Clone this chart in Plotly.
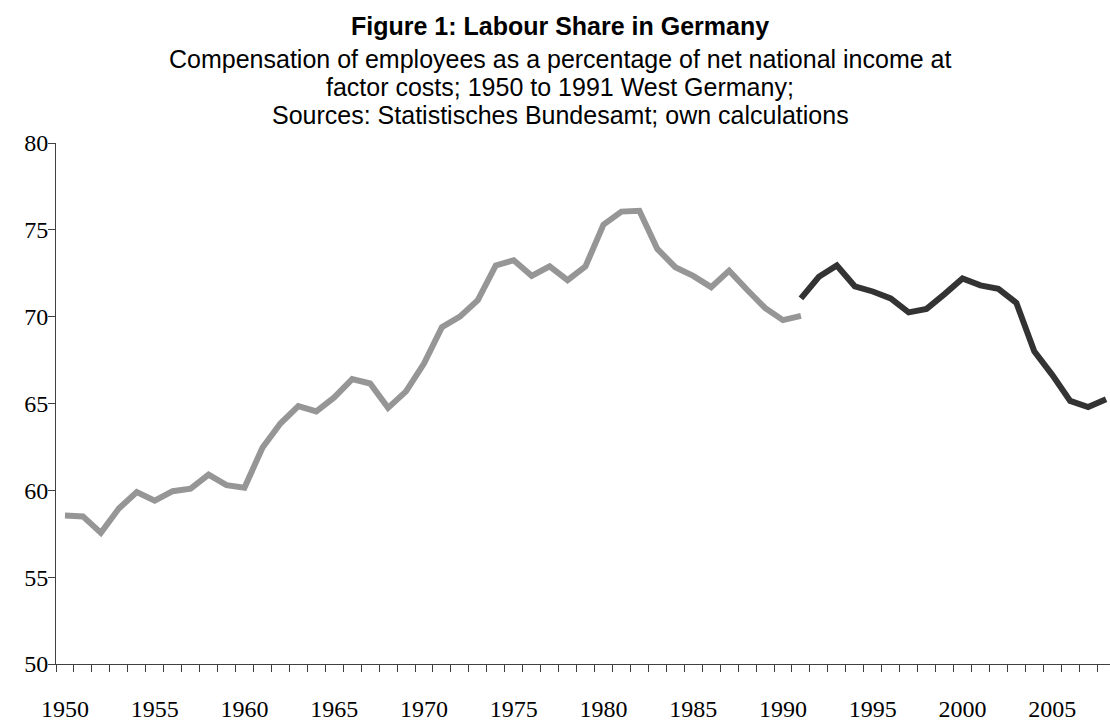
import plotly.graph_objects as go

# Data
years_west = list(range(1950, 1992))
share_west = [58.55, 58.5, 57.55, 58.95, 59.9, 59.4, 59.95, 60.1, 60.9, 60.3,
              60.15, 62.45, 63.85, 64.85, 64.55, 65.35, 66.4, 66.15, 64.75, 65.7,
              67.3, 69.4, 70.0, 70.95, 72.95, 73.25, 72.35, 72.9, 72.1, 72.9,
              75.3, 76.05, 76.1, 73.9, 72.85, 72.35, 71.7, 72.65, 71.55, 70.5,
              69.8, 70.05]
years_unified = list(range(1991, 2009))
share_unified = [71.05, 72.3, 72.95, 71.75, 71.45, 71.05, 70.25, 70.45, 71.3, 72.2,
                 71.8, 71.6, 70.8, 68.0, 66.65, 65.15, 64.8, 65.25]

x_label_vals = list(range(1950, 2006, 5))
x_label_text = [str(v) for v in x_label_vals]
x_boundaries = [y + 0.5 for y in range(1949, 2008)]
y_tick_vals = [50, 55, 60, 65, 70, 75, 80]

title_text = "<b>Figure 1: Labour Share in Germany</b>"
subtitle_lines = [
    "Compensation of employees as a percentage of net national income at",
    "factor costs; 1950 to 1991 West Germany;",
    "Sources: Statistisches Bundesamt; own calculations",
]

W, H = 1110, 722
L, R, T, B = 56, 0, 143, 49
px_per_year = 17.95
x_end = 1949.5 + (W - L - R) / px_per_year

fig = go.Figure()
fig.add_trace(go.Scatter(x=years_west, y=share_west, mode="lines",
                         line=dict(color="#969696", width=6), showlegend=False,
                         hoverinfo="skip"))
fig.add_trace(go.Scatter(x=years_unified, y=share_unified, mode="lines",
                         line=dict(color="#333333", width=6), showlegend=False,
                         hoverinfo="skip"))

tick_font = dict(family="Liberation Serif, Times New Roman, serif", size=24, color="#000000")

fig.update_xaxes(range=[1949.5, x_end], tickmode="array", tickvals=x_label_vals,
                 ticktext=x_label_text, ticks="outside", ticklen=23,
                 tickcolor="rgba(0,0,0,0)", showgrid=False, zeroline=False,
                 showline=True, linecolor="#404040", linewidth=1,
                 tickfont=tick_font,
                 minor=dict(tickmode="array", tickvals=x_boundaries, ticks="outside",
                            ticklen=7, tickcolor="#404040", tickwidth=1, showgrid=False))
fig.update_yaxes(range=[50, 80], tickmode="array", tickvals=y_tick_vals,
                 ticks="outside", ticklen=7, tickcolor="#404040", tickwidth=1,
                 showgrid=False, zeroline=False, showline=True, linecolor="#404040",
                 linewidth=1, tickfont=tick_font, ticklabelstandoff=-5)

plot_h = H - T - B
def paper_y(py):
    return 1 + (T - py) / plot_h

center_x = (560 - L) / (W - L - R)

annos = [dict(text=title_text, x=center_x, xref="paper", y=paper_y(24), yref="paper",
              xanchor="center", yanchor="middle", showarrow=False,
              font=dict(family="Liberation Sans, Arial, sans-serif", size=25, color="#000000"))]
for i, line in enumerate(subtitle_lines):
    annos.append(dict(text=line, x=center_x, xref="paper", y=paper_y(58 + 28.5 * i), yref="paper",
                      xanchor="center", yanchor="middle", showarrow=False,
                      font=dict(family="Liberation Sans, Arial, sans-serif", size=25,
                                color="#000000")))

fig.update_layout(width=W, height=H, margin=dict(l=L, r=R, t=T, b=B, pad=0),
                  paper_bgcolor="white", plot_bgcolor="white", annotations=annos)

fig.write_html("out.html", config={"displayModeBar": False},
               post_script="document.body.style.margin='0';")
